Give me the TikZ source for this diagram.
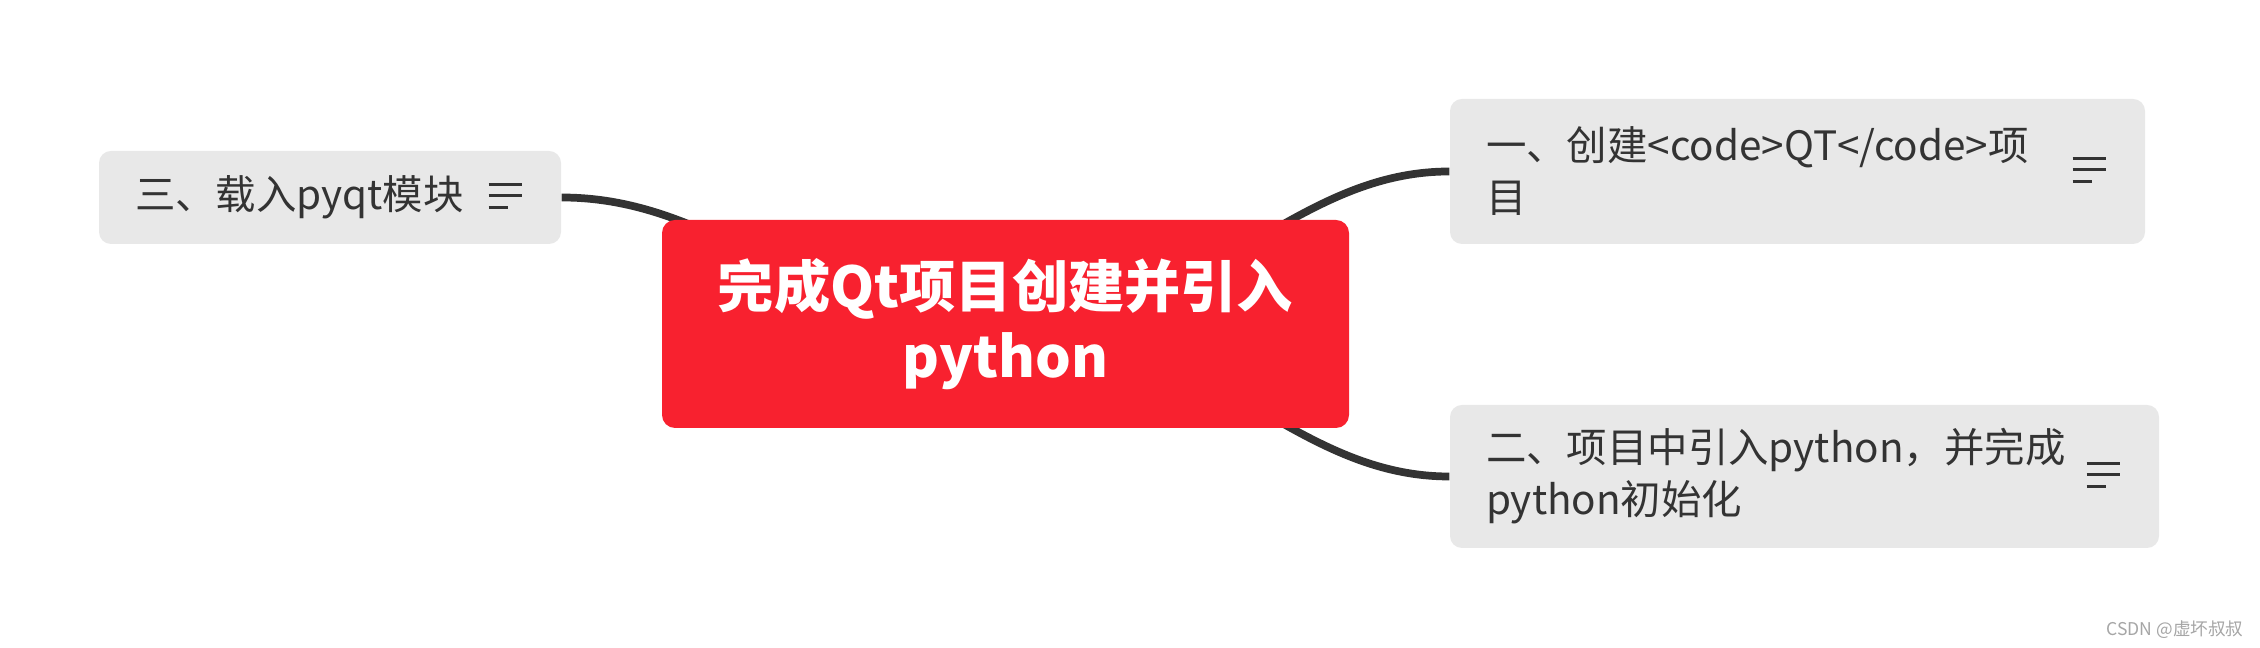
\documentclass[tikz,border=0pt]{standalone}
\usepackage{fontspec}
\setmainfont{Noto Sans CJK SC}
\usetikzlibrary{calc, backgrounds}
\definecolor{rootred}{HTML}{F8212F}
\definecolor{topicgray}{HTML}{E8E8E8}
\definecolor{darktext}{HTML}{333333}
\definecolor{markgray}{HTML}{A6A6A6}

% three short bars at the right end of a topic
\newcommand{\notelines}[1]{%
  \draw[notemark] ($(#1.east)+(-0.73,0.125)$) -- ++(0.33,0);
  \draw[notemark] ($(#1.east)+(-0.73,0.015)$) -- ++(0.33,0);
  \draw[notemark] ($(#1.east)+(-0.73,-0.105)$) -- ++(0.19,0);
}

\begin{document}
\begin{tikzpicture}[
    root/.style={rectangle, fill=rootred, rounded corners=0.13cm,
                 text=white, font=\fontsize{16pt}{20pt}\selectfont\bfseries,
                 align=center, minimum width=6.87cm, minimum height=2.08cm},
    topic/.style={rectangle, fill=topicgray, rounded corners=0.12cm,
                  text=darktext, font=\fontsize{11.5pt}{14.8pt}\selectfont,
                  align=left, inner xsep=0.36cm},
    branch/.style={line width=2.2pt, darktext},
    notemark/.style={line width=0.85pt, darktext}
]

%% Root and topics
\node[root] (root) at (10.055,-3.24) {完成Qt项目创建并引入\\python};
\node[topic, text width=6.23cm, minimum height=1.45cm]
      (create) at (17.975,-1.715) {一、创建<code>QT</code>项\\目};
\node[topic, text width=6.37cm, minimum height=1.43cm]
      (embed)  at (18.045,-4.765) {二、项目中引入python，并完成\\python初始化};
\node[topic, text width=3.90cm, minimum height=0.93cm]
      (pyqt)   at (3.30,-1.975) {三、载入pyqt模块};

%% Note marks
\notelines{create}
\notelines{embed}
\notelines{pyqt}

%% Watermark
\node[font=\fontsize{5pt}{6pt}\selectfont, text=markgray, anchor=east, inner sep=0]
      (mark) at (22.44,-6.30) {CSDN @虚坏叔叔};

%% Branches behind the nodes
\begin{scope}[on background layer]
\fill[white] (0,0) rectangle (22.6,-6.48);
\draw[branch] (root.center) .. controls +(2,0) and +(-1.6,0) .. (create.west);
\draw[branch] (root.center) .. controls +(2,0) and +(-1.6,0) .. (embed.west);
\draw[branch] (root.center) .. controls +(-2,0) and +(1.6,0) .. (pyqt.east);
\end{scope}

\end{tikzpicture}
\end{document}
